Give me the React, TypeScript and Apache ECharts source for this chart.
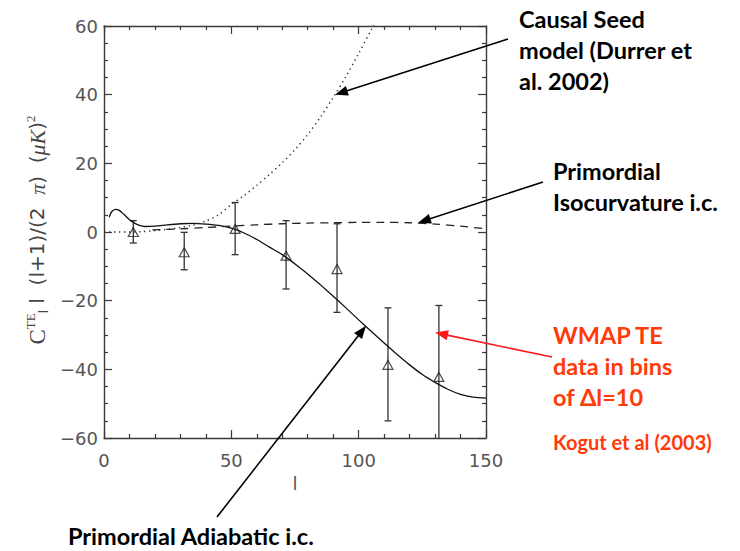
import React, { useEffect, useRef } from "react";
import * as echarts from "echarts";

// ---- data ----
const adiabaticL = [2, 3, 4.5, 6, 8, 10, 12, 14, 16, 20, 25, 30, 35, 40, 45, 50, 55, 60, 65, 70, 75, 80, 85, 90, 95, 100, 105, 110, 115, 120, 125, 130, 135, 140, 145, 150];
const adiabaticV = [4.3, 5.9, 6.6, 6.3, 5.0, 3.6, 2.6, 1.9, 1.6, 1.7, 2.1, 2.4, 2.5, 2.3, 1.9, 1.1, -0.3, -2.2, -4.4, -6.6, -9.3, -12.2, -15.4, -18.7, -22.1, -25.6, -29.0, -32.3, -35.6, -38.7, -41.5, -43.8, -45.8, -47.3, -48.1, -48.4];

const isoL = [19, 30, 40, 50, 60, 70, 80, 90, 100, 110, 120, 130, 140, 150];
const isoV = [0.6, 0.9, 1.3, 1.7, 2.1, 2.4, 2.6, 2.7, 2.8, 2.8, 2.7, 2.3, 1.7, 0.9];

const seedL = [0, 5, 10, 15, 20, 25, 30, 35, 40, 45, 50, 55, 60, 65, 70, 75, 80, 85, 90, 95, 100, 105, 110];
const seedV = [0, 0, 0, 0.1, 0.4, 0.8, 1.3, 2.0, 3.2, 5.0, 8.0, 10.6, 13.6, 16.8, 20.2, 24.0, 28.4, 33.5, 39.2, 45.3, 52, 59, 66];

const wmapL = [11.5, 31.5, 51.5, 71.5, 91.5, 111.5, 131.5];
const wmapV = [0, -5.9, 0.9, -6.9, -10.8, -38.7, -42.2];
const wmapLow = [-3.2, -11, -6.6, -16.6, -23.4, -55, -64];
const wmapHigh = [3.3, -0.1, 8.6, 3.3, 2.4, -22.1, -21.4];

const xTickLabels = ["0", "50", "100", "150"];
const yTickLabels = ["−60", "−40", "−20", "0", "20", "40", "60"];

const causalText = "Causal Seed\nmodel (Durrer et\nal. 2002)";
const isoText = "Primordial\nIsocurvature i.c.";
const wmapText = "WMAP TE\ndata in bins\nof Δl=10";
const kogutText = "Kogut et al (2003)";
const adiabaticText = "Primordial Adiabatic i.c.";

// arrow tips in data coordinates [l, value]
const causalTip = [90.7, 40];
const isoTip = [123.3, 2.7];
const wmapTip = [130, -29.3];
const adiabaticTip = [102.9, -27.3];

const zip = (a: number[], b: number[]) => a.map((v, i) => [v, b[i]]);

export default function App() {
  const ref = useRef<HTMLDivElement>(null);
  useEffect(() => {
    if (!ref.current) return;
    const chart = echarts.init(ref.current, null, { renderer: "svg" });
    const axisColor = "#3a3a3a";
    const labelStyle = { color: "#555", fontFamily: "DejaVu Sans", fontSize: 18 };
    const option: any = {
      animation: false,
      backgroundColor: "#fff",
      grid: { left: 104, right: 254, top: 26, bottom: 113, containLabel: false },
      xAxis: [
        {
          type: "value", min: 0, max: 150, interval: 50, position: "bottom",
          axisLine: { show: true, onZero: false, lineStyle: { color: axisColor, width: 1.4 } },
          axisTick: { show: true, inside: true, length: 8, lineStyle: { color: axisColor, width: 1.2 } },
          minorTick: { show: true, splitNumber: 5, length: 4, lineStyle: { color: axisColor, width: 1.2 } },
          splitLine: { show: false },
          axisLabel: { ...labelStyle, margin: 13, formatter: (v: number) => xTickLabels[Math.round(v / 50)] },
          name: "l", nameLocation: "middle", nameGap: 36,
          nameTextStyle: { ...labelStyle, fontSize: 18 },
        },
        {
          type: "value", min: 0, max: 150, interval: 50, position: "top",
          axisLine: { show: true, onZero: false, lineStyle: { color: axisColor, width: 1.4 } },
          axisTick: { show: true, inside: true, length: 8, lineStyle: { color: axisColor, width: 1.2 } },
          minorTick: { show: true, splitNumber: 5, length: 4, lineStyle: { color: axisColor, width: 1.2 } },
          splitLine: { show: false }, axisLabel: { show: false },
        },
      ],
      yAxis: [
        {
          type: "value", min: -60, max: 60, interval: 20, position: "left",
          axisLine: { show: true, onZero: false, lineStyle: { color: axisColor, width: 1.4 } },
          axisTick: { show: true, inside: true, length: 8, lineStyle: { color: axisColor, width: 1.2 } },
          minorTick: { show: true, splitNumber: 4, length: 4, lineStyle: { color: axisColor, width: 1.2 } },
          splitLine: { show: false },
          axisLabel: { ...labelStyle, margin: 6, formatter: (v: number) => yTickLabels[Math.round((v + 60) / 20)] },
        },
        {
          type: "value", min: -60, max: 60, interval: 20, position: "right",
          axisLine: { show: true, onZero: false, lineStyle: { color: axisColor, width: 1.4 } },
          axisTick: { show: true, inside: true, length: 8, lineStyle: { color: axisColor, width: 1.2 } },
          minorTick: { show: true, splitNumber: 4, length: 4, lineStyle: { color: axisColor, width: 1.2 } },
          splitLine: { show: false }, axisLabel: { show: false },
        },
      ],
      series: [
        {
          name: "Adiabatic", type: "line", smooth: 0.3, showSymbol: false, clip: true,
          data: zip(adiabaticL, adiabaticV),
          lineStyle: { color: "#111", width: 1.3 },
        },
        {
          name: "Isocurvature", type: "line", smooth: 0.3, showSymbol: false, clip: true,
          data: zip(isoL, isoV),
          lineStyle: { color: "#222", width: 1.3, type: [8, 6] },
        },
        {
          name: "Causal seed", type: "line", smooth: 0.3, showSymbol: false, clip: true,
          data: zip(seedL, seedV),
          lineStyle: { color: "#333", width: 1.4, type: [1.4, 3.6] },
        },
        {
          name: "WMAP err", type: "custom", clip: true,
          data: wmapL.map((l, i) => [l, wmapLow[i], wmapHigh[i]]),
          encode: { x: 0, y: [1, 2] },
          renderItem: (params: any, api: any) => {
            const x = api.value(0);
            const pHi = api.coord([x, api.value(2)]);
            const pLo = api.coord([x, api.value(1)]);
            const w = 3.5;
            const st = { stroke: "#333", lineWidth: 1.3 };
            return {
              type: "group",
              children: [
                { type: "line", shape: { x1: pHi[0], y1: pHi[1], x2: pLo[0], y2: pLo[1] }, style: st },
                { type: "line", shape: { x1: pHi[0] - w, y1: pHi[1], x2: pHi[0] + w, y2: pHi[1] }, style: st },
                { type: "line", shape: { x1: pLo[0] - w, y1: pLo[1], x2: pLo[0] + w, y2: pLo[1] }, style: st },
              ],
            };
          },
        },
        {
          name: "WMAP", type: "scatter", symbol: "triangle", symbolSize: [10, 9],
          data: zip(wmapL, wmapV),
          itemStyle: { color: "rgba(255,255,255,0)", borderColor: "#222", borderWidth: 1.2 },
          z: 5,
        },
      ],
    };
    chart.setOption(option);

    const arrow = (id: string, sx: number, sy: number, tipData: number[], color: string) => {
      const t = chart.convertToPixel({ gridIndex: 0 }, tipData) as number[];
      const dx = t[0] - sx, dy = t[1] - sy;
      const len = Math.sqrt(dx * dx + dy * dy);
      const ux = dx / len, uy = dy / len;
      const L = 13, W = 5;
      const bx = t[0] - ux * L, by = t[1] - uy * L;
      return [
        { type: "line", id: id + "l", shape: { x1: sx, y1: sy, x2: bx + ux * 2, y2: by + uy * 2 }, style: { stroke: color, lineWidth: 1.6 }, z: 10 },
        {
          type: "polygon", id: id + "h",
          shape: { points: [[t[0], t[1]], [bx - uy * W, by + ux * W], [bx + uy * W, by - ux * W]] },
          style: { fill: color }, z: 10,
        },
      ];
    };

    const boldFont = { fontFamily: "Lato", fontWeight: "bold", fontSize: 23.5 };
    const red = "#ff3a0a";
    const graphics: any[] = [
      { type: "text", id: "t1", x: 519, y: 3, style: { text: causalText, ...boldFont, lineHeight: 31, fill: "#000", textVerticalAlign: "top" } },
      { type: "text", id: "t2", x: 553, y: 155, style: { text: isoText, ...boldFont, lineHeight: 31, fill: "#000", textVerticalAlign: "top" } },
      { type: "text", id: "t3", x: 553, y: 319, style: { text: wmapText, ...boldFont, lineHeight: 31, fill: red, textVerticalAlign: "top" } },
      { type: "text", id: "t4", x: 553, y: 430, style: { text: kogutText, fontFamily: "Lato", fontWeight: "bold", fontSize: 20, lineHeight: 24, fill: red, textVerticalAlign: "top" } },
      { type: "text", id: "t5", x: 68, y: 523, style: { text: adiabaticText, ...boldFont, lineHeight: 26, fill: "#000", textVerticalAlign: "top" } },
      {
        type: "text", id: "ylab", x: 37, y: 230, rotation: Math.PI / 2,
        style: {
          text: "{c|C}{sup|TE}{sub|l}{m| l  (l+1)/(2  }{s|π}{m|)  (}{s|μK}{m|)}{sup|2}",
          textAlign: "center", textVerticalAlign: "middle", fill: "#444",
          rich: {
            c: { fontFamily: "Liberation Serif", fontSize: 23, lineHeight: 34, fill: "#444" },
            m: { fontFamily: "DejaVu Sans", fontSize: 20, lineHeight: 34, fill: "#444" },
            s: { fontFamily: "Liberation Serif", fontStyle: "italic", fontSize: 22, lineHeight: 34, fill: "#444" },
            sup: { fontFamily: "Liberation Serif", fontSize: 13, lineHeight: 13, verticalAlign: "top", padding: [4, 0, 0, 0], fill: "#444" },
            sub: { fontFamily: "DejaVu Sans", fontSize: 12, lineHeight: 12, verticalAlign: "bottom", padding: [0, 0, 4, 0], fill: "#444" },
          },
        },
      },
      ...arrow("a1", 508, 39, causalTip, "#000"),
      ...arrow("a2", 543, 182, isoTip, "#000"),
      ...arrow("a3", 552, 357, wmapTip, "#ff1a1a"),
      ...arrow("a4", 217, 517, adiabaticTip, "#000"),
    ];
    chart.setOption({ graphic: graphics });
    return () => chart.dispose();
  }, []);
  return <div ref={ref} style={{ width: 740, height: 551, position: "absolute", left: 0, top: 0 }} />;
}
